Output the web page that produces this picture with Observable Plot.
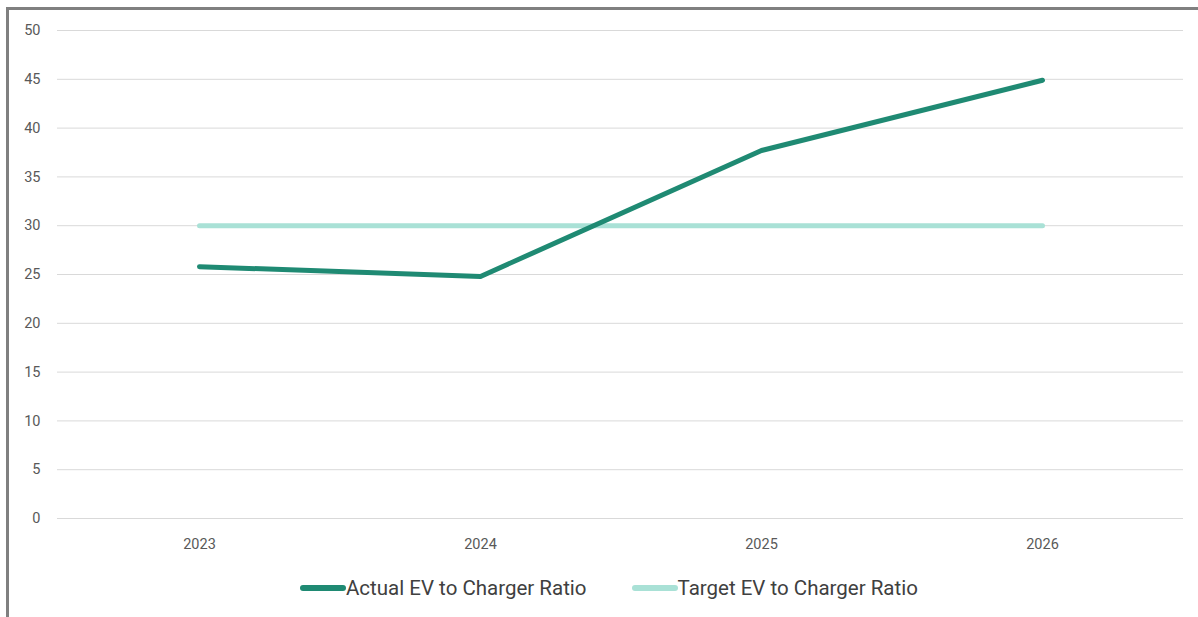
<!DOCTYPE html>
<html>
<head>
<meta charset="utf-8">
<script src="https://cdn.jsdelivr.net/npm/d3@7"></script>
<script src="https://cdn.jsdelivr.net/npm/@observablehq/plot@0.6"></script>
<style>
  html, body { margin: 0; padding: 0; background: #fff; }
  #wrap { position: absolute; left: 6px; top: 7px; width: 1192px; height: 610px;
          border-left: 3px solid #808080; border-top: 3px solid #808080; box-sizing: border-box; }
  #chart { position: absolute; left: -9px; top: -10px; }
  #legend { position: absolute; top: 566px; left: 291px; display: flex; align-items: center;
            font-family: "Roboto", sans-serif;
            font-size: 20.5px; color: #404040; }
  .item { display: flex; align-items: center; }
  .swatch { width: 46px; height: 6px; border-radius: 3px; }
</style>
</head>
<body>
<div id="wrap">
  <div id="chart"></div>
  <div id="legend"></div>
</div>
<script>
const years = ["2023", "2024", "2025", "2026"];
const actual = [25.8, 24.8, 37.7, 44.9];
const target = [30, 30, 30, 30];
const seriesNames = ["Actual EV to Charger Ratio", "Target EV to Charger Ratio"];
const seriesColors = ["#1f8a73", "#a9e1d6"];
const yTicks = [0, 5, 10, 15, 20, 25, 30, 35, 40, 45, 50];

const rows = [];
years.forEach((y, i) => {
  rows.push({year: y, value: actual[i], series: seriesNames[0]});
  rows.push({year: y, value: target[i], series: seriesNames[1]});
});

const plot = Plot.plot({
  width: 1198,
  height: 565,
  marginLeft: 57,
  marginRight: 15,
  marginTop: 30,
  marginBottom: 47,
  style: { fontFamily: "Roboto, 'Noto Sans', sans-serif", fontSize: "14px", color: "#595959", background: "transparent" },
  x: { type: "point", domain: years, padding: 0.5, label: null, tickSize: 0, tickPadding: 20 },
  y: { domain: [0, 50], ticks: yTicks, label: null, tickSize: 0, tickPadding: 17 },
  color: { domain: seriesNames, range: seriesColors },
  marks: [
    Plot.gridY(yTicks, { stroke: "#d9d9d9", strokeOpacity: 1, strokeWidth: 1 }),
    Plot.axisY({ ticks: yTicks, tickSize: 0, tickPadding: 17, fill: "#595959", fontSize: 14.5, label: null }),
    Plot.axisX({ tickSize: 0, tickPadding: 20, fill: "#595959", fontSize: 14.5, label: null }),
    Plot.line(rows.filter(d => d.series === seriesNames[1]), { x: "year", y: "value", stroke: "series", strokeWidth: 5, strokeLinecap: "round" }),
    Plot.line(rows.filter(d => d.series === seriesNames[0]), { x: "year", y: "value", stroke: "series", strokeWidth: 5, strokeLinecap: "round", strokeLinejoin: "round" })
  ]
});
document.getElementById("chart").appendChild(plot);

const legend = document.getElementById("legend");
seriesNames.forEach((name, i) => {
  const item = document.createElement("div");
  item.className = "item";
  if (i > 0) item.style.marginLeft = "45px";
  const sw = document.createElement("div");
  sw.className = "swatch";
  sw.style.background = seriesColors[i];
  const t = document.createElement("span");
  t.textContent = name;
  item.appendChild(sw);
  item.appendChild(t);
  legend.appendChild(item);
});
</script>
</body>
</html>
